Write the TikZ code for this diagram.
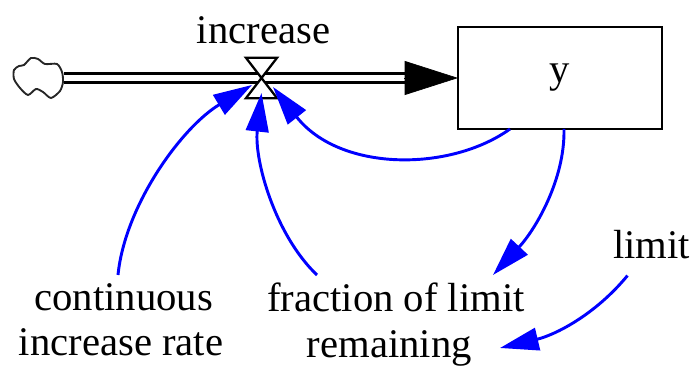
\documentclass[tikz,border=0pt]{standalone}
\usepackage{fontspec}
\setmainfont{Liberation Serif}
\definecolor{linkblue}{RGB}{0, 0, 255}
\usetikzlibrary{arrows.meta, positioning}

\tikzset{
  vartext/.style={inner sep=0pt, align=center, font=\fontsize{30.5pt}{34.3pt}\selectfont},
  link/.style={draw=linkblue, line width=2.2pt, -{Triangle[length=29pt, width=17pt, fill=linkblue]}},
  pipe/.style={double, double distance=5.2pt, line width=2.2pt},
}

\begin{document}
\begin{tikzpicture}[x=0.75pt, y=-0.75pt]
  \useasboundingbox (0,0) rectangle (693,366);

  % stock, source and valve
  \node[draw, line width=1.6pt, outer sep=0pt, minimum width=153pt, minimum height=76.5pt, vartext] (stock) at (560,78) {\raisebox{-9pt}{y}};
  \node[inner sep=0pt, minimum width=37.5pt, minimum height=30pt] (source) at (39,78) {};
  \node[inner sep=0pt, minimum width=23pt, minimum height=30pt] (valve) at (261.5,78) {};
  \draw[line width=1.4pt, black!85] plot[smooth cycle, tension=0.45] coordinates {
    (14,70) (19,66) (24,65) (31,58) (38,59) (45,64) (57,64) (62,72) (63,82) (60,91)
    (51,98) (43,92) (36,89) (28,95) (20,88) (14,79)};

  \draw[pipe, shorten >=40pt] (source.east) -- (stock.west);
  \draw[-{Triangle[length=40pt, width=25.5pt]}, line width=0.5pt] (404,78) -- (stock.west);
  \draw[line width=1.7pt, line join=miter, fill=white, even odd rule]
    (valve.north west) -- (valve.north east) -- (valve.south west) -- (valve.south east) -- cycle;

  % labels
  \node[vartext] (increase) at (263.5,30) {increase};
  \node[vartext, anchor=north] (rate) at (121,283) {\hspace*{4pt}continuous\\increase rate};
  \node[vartext, anchor=north] (fraction) at (396,283) {fraction of limit\\remaining\hspace*{10pt}};
  \node[vartext] (limit) at (651.5,245) {limit};

  % links
  \draw[link] ([shift={(-3,-8)}]rate.north) .. controls (125,205) and (182,127) .. ([shift={(-9.5,7)}]valve.center);
  \draw[link] ([shift={(-79,-8)}]fraction.north) .. controls (275,235) and (254,160) .. ([shift={(0,15)}]valve.center);
  \draw[link] ([shift={(-50,0)}]stock.south) .. controls (450,172) and (340,172) .. ([shift={(11.5,9)}]valve.center);
  \draw[link] ([shift={(4,0)}]stock.south) .. controls (565,180) and (535,230) .. ([shift={(97,-8)}]fraction.north);
  \draw[link] ([shift={(-24,16)}]limit.south) .. controls (595,315) and (555,335) .. ([shift={(104,65)}]fraction.north);
\end{tikzpicture}
\end{document}
